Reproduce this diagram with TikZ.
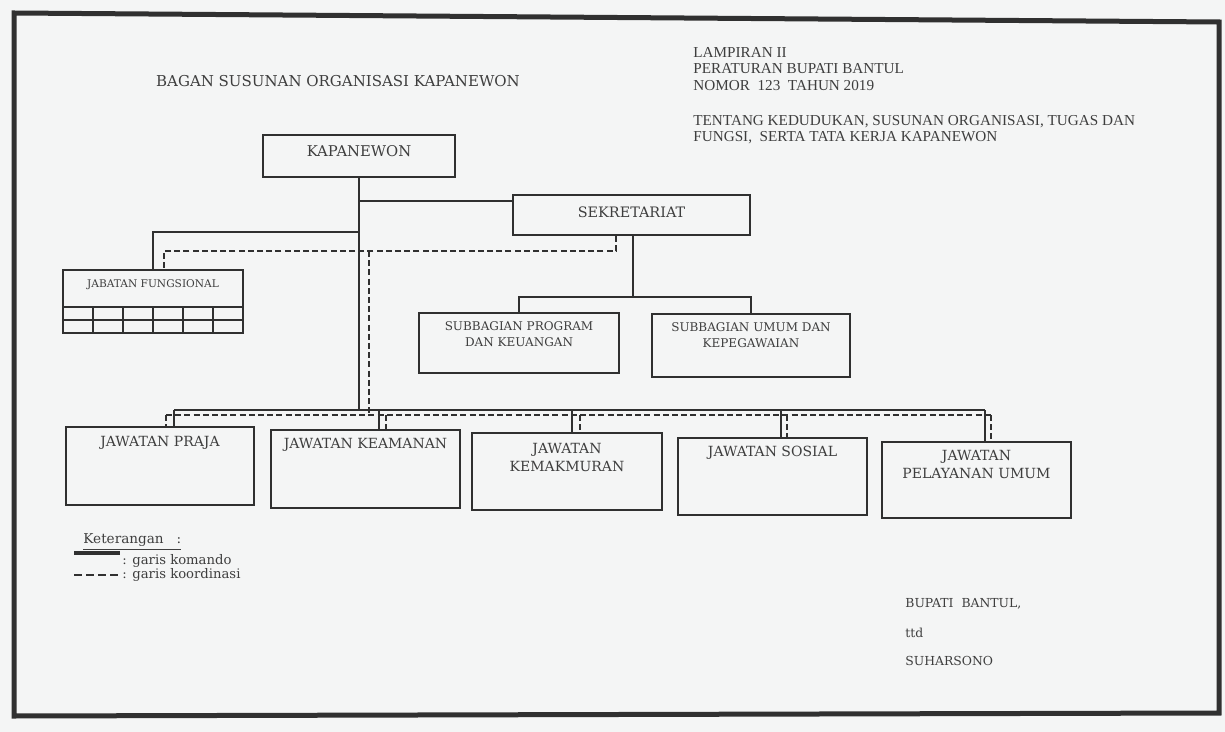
\documentclass[tikz,border=0pt]{standalone}
\usepackage{fontspec}
\setmainfont{DejaVu Serif}
\newfontfamily\headfont{Liberation Serif}
\usetikzlibrary{calc}
\definecolor{paper}{RGB}{244,245,245}
\definecolor{ink}{RGB}{48,48,48}
\definecolor{tinta}{RGB}{62,62,62}
\tikzset{
  kotak/.style={draw=ink, line width=1pt, inner sep=0pt},
  komando/.style={draw=ink, line width=1.1pt},
  koordinasi/.style={draw=ink, line width=1.1pt, dash pattern=on 3pt off 1.6pt},
  tulisan/.style={text=tinta, inner sep=0pt, align=center},
}
\begin{document}
\begin{tikzpicture}[x=0.5pt, y=-0.5pt]
\fill[paper] (0,0) rectangle (1225,732);
\useasboundingbox (0,0) rectangle (1225,732);
\draw[ink, line width=2.5pt] (14,13) -- (1219,22) -- (1219,713) -- (14,716) -- cycle;

\node[tulisan, font=\fontsize{7.5}{9}\selectfont] (judul) at (338,81) {BAGAN SUSUNAN ORGANISASI KAPANEWON};
\node[tulisan, anchor=west, font=\headfont\fontsize{7.6}{9}\selectfont] (lampiran) at (693,52) {LAMPIRAN II};
\node[tulisan, anchor=west, font=\headfont\fontsize{7.6}{9}\selectfont] (peraturan) at (693,69) {PERATURAN BUPATI BANTUL};
\node[tulisan, anchor=west, font=\headfont\fontsize{7.6}{9}\selectfont] (nomor) at (693,86) {NOMOR\ \ 123\ \ TAHUN 2019};
\node[tulisan, anchor=west, font=\headfont\fontsize{7.6}{9}\selectfont] (tentang) at (693,122) {TENTANG KEDUDUKAN, SUSUNAN ORGANISASI, TUGAS DAN};
\node[tulisan, anchor=west, font=\headfont\fontsize{7.6}{9}\selectfont] (fungsi) at (693,138) {FUNGSI,\ \ SERTA TATA KERJA KAPANEWON};

\node[kotak, minimum width=96pt, minimum height=21pt] (kapanewon) at (359,156) {};
\node[tulisan, font=\fontsize{7.4}{9}\selectfont] (kapanewon-t) at (359,151) {KAPANEWON};
\node[kotak, minimum width=118.5pt, minimum height=20pt] (sekretariat) at (631.5,215) {};
\node[tulisan, font=\fontsize{7.2}{9}\selectfont] (sekretariat-t) at (631.5,212) {SEKRETARIAT};

\node[kotak, minimum width=90pt, minimum height=31.5pt] (jabfung) at (153,301.5) {};
\node[tulisan, font=\fontsize{5.3}{7}\selectfont] (jabfung-t) at (153,285) {JABATAN FUNGSIONAL};
\draw[ink, line width=0.9pt] (63,307) -- (243,307) (63,320) -- (243,320);
\foreach \x in {93,123,153,183,213}
  \draw[ink, line width=0.9pt] (\x,307) -- (\x,333);

\node[kotak, minimum width=100pt, minimum height=30pt] (subprog) at (519,343) {};
\node[tulisan, font=\fontsize{6}{8}\selectfont] (subprog-t) at (519,334) {SUBBAGIAN PROGRAM\\DAN KEUANGAN};
\node[kotak, minimum width=99pt, minimum height=31.5pt] (subumum) at (751,345.5) {};
\node[tulisan, font=\fontsize{6}{8}\selectfont] (subumum-t) at (751,335) {SUBBAGIAN UMUM DAN\\KEPEGAWAIAN};

\node[kotak, minimum width=94pt, minimum height=39pt] (praja) at (160,466) {};
\node[tulisan, font=\fontsize{7}{9}\selectfont] (praja-t) at (160,443) {JAWATAN PRAJA};
\node[kotak, minimum width=94.5pt, minimum height=39pt] (keamanan) at (365.5,469) {};
\node[tulisan, font=\fontsize{7}{9}\selectfont] (keamanan-t) at (365.5,445) {JAWATAN KEAMANAN};
\node[kotak, minimum width=95pt, minimum height=38.5pt] (kemakmuran) at (567,471.5) {};
\node[tulisan, font=\fontsize{7}{9}\selectfont] (kemakmuran-t) at (567,457) {JAWATAN\\KEMAKMURAN};
\node[kotak, minimum width=94.5pt, minimum height=38.5pt] (sosial) at (772.5,476.5) {};
\node[tulisan, font=\fontsize{7}{9}\selectfont] (sosial-t) at (772.5,453) {JAWATAN SOSIAL};
\node[kotak, minimum width=94.5pt, minimum height=38pt] (pelayanan) at (976.5,480) {};
\node[tulisan, font=\fontsize{7}{9}\selectfont] (pelayanan-t) at (976.5,464) {JAWATAN\\PELAYANAN UMUM};

\coordinate (k1) at (174,410);
\coordinate (k2) at (379,410);
\coordinate (k3) at (572,410);
\coordinate (k4) at (781,410);
\coordinate (k5) at (985,410);
\coordinate (d1) at (166,415);
\coordinate (d2) at (386,415);
\coordinate (d3) at (580,415);
\coordinate (d4) at (787,415);
\coordinate (d5) at (991,415);
\coordinate (cab1) at (359,201);
\coordinate (cab2) at (359,232);
\coordinate (cab3) at (633,297);
\coordinate (ko1) at (616,251);
\coordinate (ko2) at (164,251);
\coordinate (ko3) at (369,251);

\draw[komando] (kapanewon.south) -- (kapanewon.south |- k1);
\draw[komando] (cab1) -- (cab1 -| sekretariat.west);
\draw[komando] (cab2) -| (jabfung.north);
\draw[komando] (cab3 |- sekretariat.south) -- (cab3);
\draw[komando] (subprog.north) |- (cab3) -| (subumum.north);
\draw[komando] (k1) -- (k5);
\foreach \i/\b in {1/praja,2/keamanan,3/kemakmuran,4/sosial,5/pelayanan}
  \draw[komando] (k\i) -- (k\i |- \b.north);

\draw[koordinasi] (ko1 |- sekretariat.south) -- (ko1) -- (ko2) -- (ko2 |- jabfung.north);
\draw[koordinasi] (ko3) -- (ko3 |- d1);
\draw[koordinasi] (d1) -- (d5);
\foreach \i/\b in {1/praja,2/keamanan,3/kemakmuran,4/sosial,5/pelayanan}
  \draw[koordinasi] (d\i) -- (d\i |- \b.north);

\node[tulisan, anchor=west, font=\fontsize{6.8}{8}\selectfont] (keterangan) at (83,542) {\underline{Keterangan\ \ \ :}};
\draw[ink, line width=1.6pt] (74,553) -- (120,553);
\node[tulisan, anchor=west, font=\fontsize{6.6}{8}\selectfont] (komando-t) at (122,561) {: garis komando};
\draw[ink, line width=1.4pt, dash pattern=on 4pt off 2pt] (74,575) -- (120,575);
\node[tulisan, anchor=west, font=\fontsize{6.6}{8}\selectfont] (koordinasi-t) at (122,575) {: garis koordinasi};

\node[tulisan, anchor=west, font=\fontsize{6.2}{8}\selectfont] (bupati) at (905,604) {BUPATI\ \ BANTUL,};
\node[tulisan, anchor=west, font=\fontsize{6.2}{8}\selectfont] (ttd) at (905,633) {ttd};
\node[tulisan, anchor=west, font=\fontsize{6.2}{8}\selectfont] (suharsono) at (905,661) {SUHARSONO};
\end{tikzpicture}
\end{document}
